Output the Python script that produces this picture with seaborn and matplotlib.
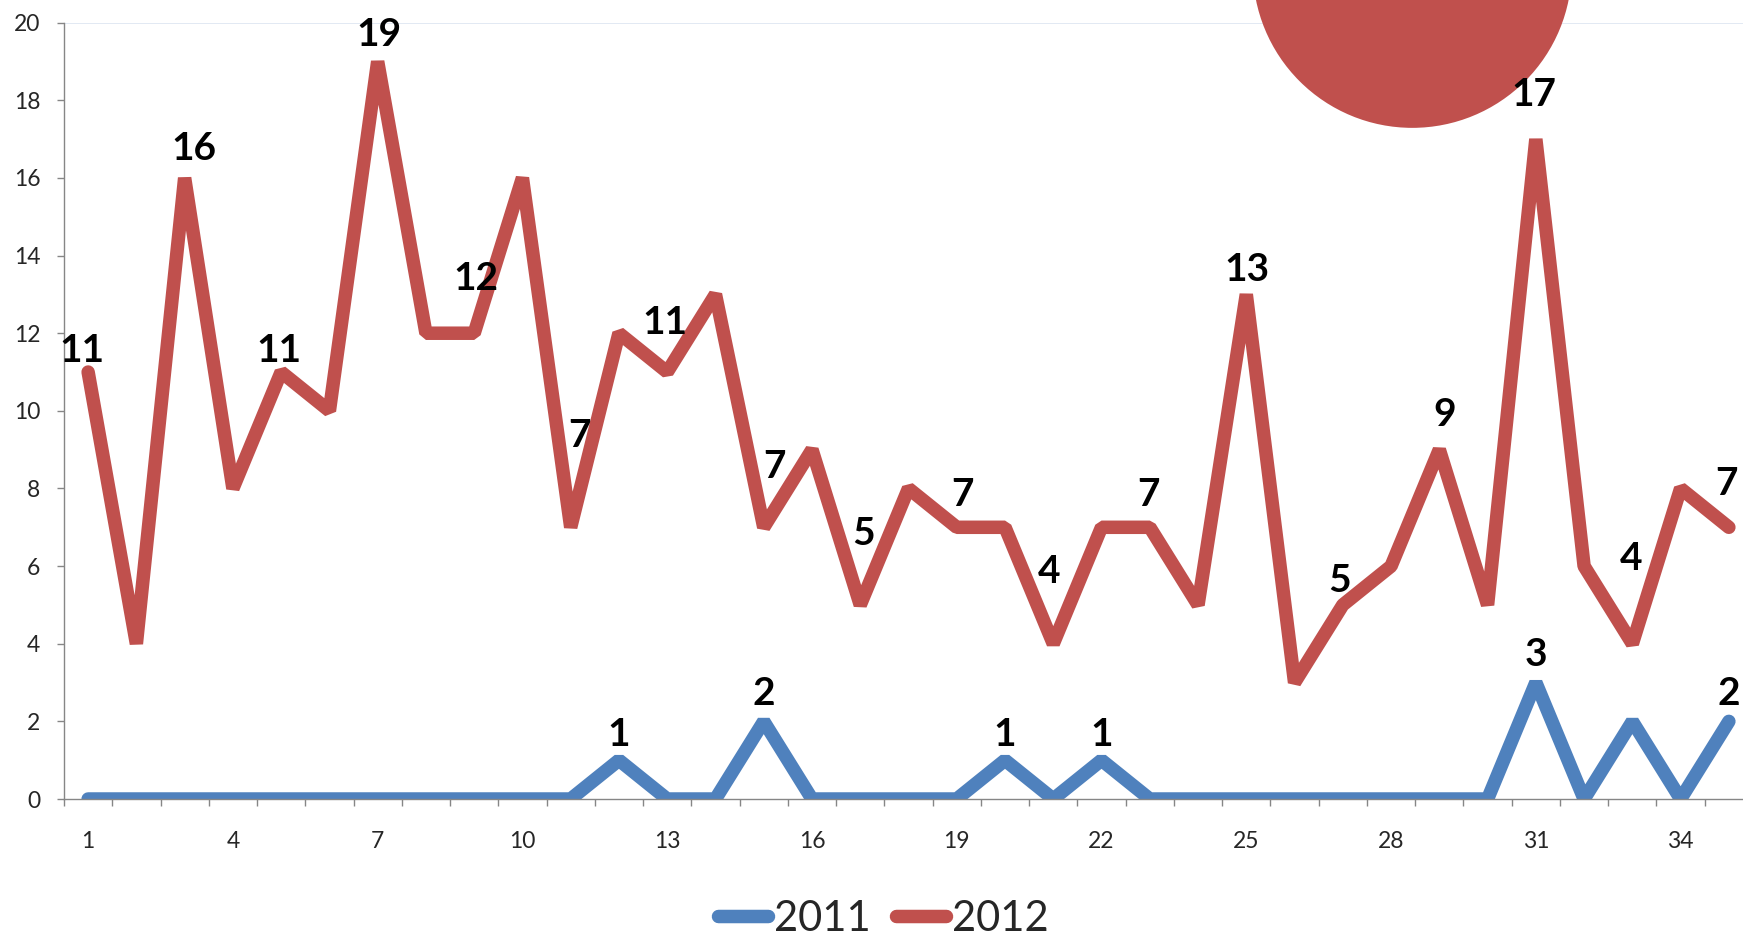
import numpy as np
import pandas as pd
import matplotlib
matplotlib.use("Agg")
import matplotlib.pyplot as plt
from matplotlib.ticker import FixedLocator
import seaborn as sns

# ── data ──────────────────────────────────────────────────────────────────
weeks = list(range(1, 36))
y2011 = [0, 0, 0, 0, 0, 0, 0, 0, 0, 0, 0, 1, 0, 0, 2, 0, 0, 0, 0, 1,
         0, 1, 0, 0, 0, 0, 0, 0, 0, 0, 3, 0, 2, 0, 2]
y2012 = [11, 4, 16, 8, 11, 10, 19, 12, 12, 16, 7, 12, 11, 13, 7, 9, 5, 8, 7, 7,
         4, 7, 7, 5, 13, 3, 5, 6, 9, 5, 17, 6, 4, 8, 7]
x_ticklabels = [1, 4, 7, 10, 13, 16, 19, 22, 25, 28, 31, 34]
y_ticks = list(range(0, 21, 2))

# weeks that carry a value label
labels_2012 = list(range(1, 36, 2))
labels_2011 = [12, 15, 20, 22, 31, 35]

# decorative bubble in the top right
bubble_x = [28.44]
bubble_y = [21.4]

# label placement (pixels above / beside the point, as laid out in the source)
lab_dy_2012 = [24, 32, 24, 30, 57, 94, 52, 63, 74, 35, 75, 35, 27, 27, 38, 47, 88, 46]
lab_dx_2012 = [-6, 9, -2, 1, 2, 9, -2, 11, 3, 6, -4, -1, 1, -3, 5, -2, -1, -2]
lab_dy_2011 = [28, 30, 28, 28, 31, 30]

RED = "#C0504D"
BLUE = "#4F81BD"
AXIS = "#868686"
PX = 0.72  # points per pixel at dpi 100

sns.set_style("white")
plt.rcParams["font.family"] = ["Lato", "DejaVu Sans"]

fig = plt.figure(figsize=(17.43, 9.4), dpi=100)
ax = fig.add_axes([64 / 1743, 1 - 799 / 940, (1753 - 64) / 1743, (799 - 22.7) / 940])

line_kw = dict(linewidth=13.5 * PX, solid_capstyle="round", solid_joinstyle="bevel")
sns.lineplot(x=weeks, y=y2011, color=BLUE, ax=ax, legend=False, label="2011", **line_kw)
sns.lineplot(x=weeks, y=y2012, color=RED, ax=ax, legend=False, label="2012", **line_kw)

ax.axhline(20, color="#D9E3F0", lw=1.5 * PX, zorder=1)

ax.scatter(bubble_x, bubble_y, s=(319 * PX) ** 2, color=RED, edgecolor="none",
           clip_on=False, zorder=3)

# ── value labels ──────────────────────────────────────────────────────────
lab_kw = dict(textcoords="offset points", ha="center", va="baseline",
              fontsize=28, fontweight="bold", color="black", zorder=5,
              annotation_clip=False)
for wk, dy, dx in zip(labels_2012, lab_dy_2012, lab_dx_2012):
    v = y2012[wk - 1]
    ax.annotate(str(v), (wk, v), xytext=(dx * PX, (dy - 14) * PX), **lab_kw)
for wk, dy in zip(labels_2011, lab_dy_2011):
    v = y2011[wk - 1]
    ax.annotate(str(v), (wk, v), xytext=(0, (dy - 14) * PX), **lab_kw)

# ── axes ──────────────────────────────────────────────────────────────────
ax.set_xlim(0.5, 35.5)
ax.set_ylim(0, 20)
ax.set_yticks(y_ticks)
ax.xaxis.set_major_locator(FixedLocator(x_ticklabels))
ax.set_xticklabels([str(t) for t in x_ticklabels])
ax.xaxis.set_minor_locator(FixedLocator(np.arange(0.5, 36, 1)))
ax.tick_params(axis="x", which="major", length=0, pad=23, labelsize=16.5)
ax.tick_params(axis="x", which="minor", length=5, width=1, color=AXIS, direction="out")
ax.tick_params(axis="y", which="major", length=5, width=1, color=AXIS,
               direction="out", pad=12, labelsize=16.5)
ax.tick_params(bottom=True, left=True, which="both")
ax.set_xlabel("")
ax.set_ylabel("")
for side in ["top", "right"]:
    ax.spines[side].set_visible(False)
for side in ["left", "bottom"]:
    ax.spines[side].set_color(AXIS)
    ax.spines[side].set_linewidth(1)
    ax.spines[side].set_zorder(4)

handles, labels = ax.get_legend_handles_labels()
fig.legend(handles, labels, loc="center", bbox_to_anchor=(883 / 1743, 1 - 919 / 940),
           ncol=2, frameon=False, fontsize=30, handlelength=1.2, handletextpad=0.15,
           columnspacing=0.6, borderpad=0)

fig.savefig("out.png", dpi=100)
plt.close(fig)
